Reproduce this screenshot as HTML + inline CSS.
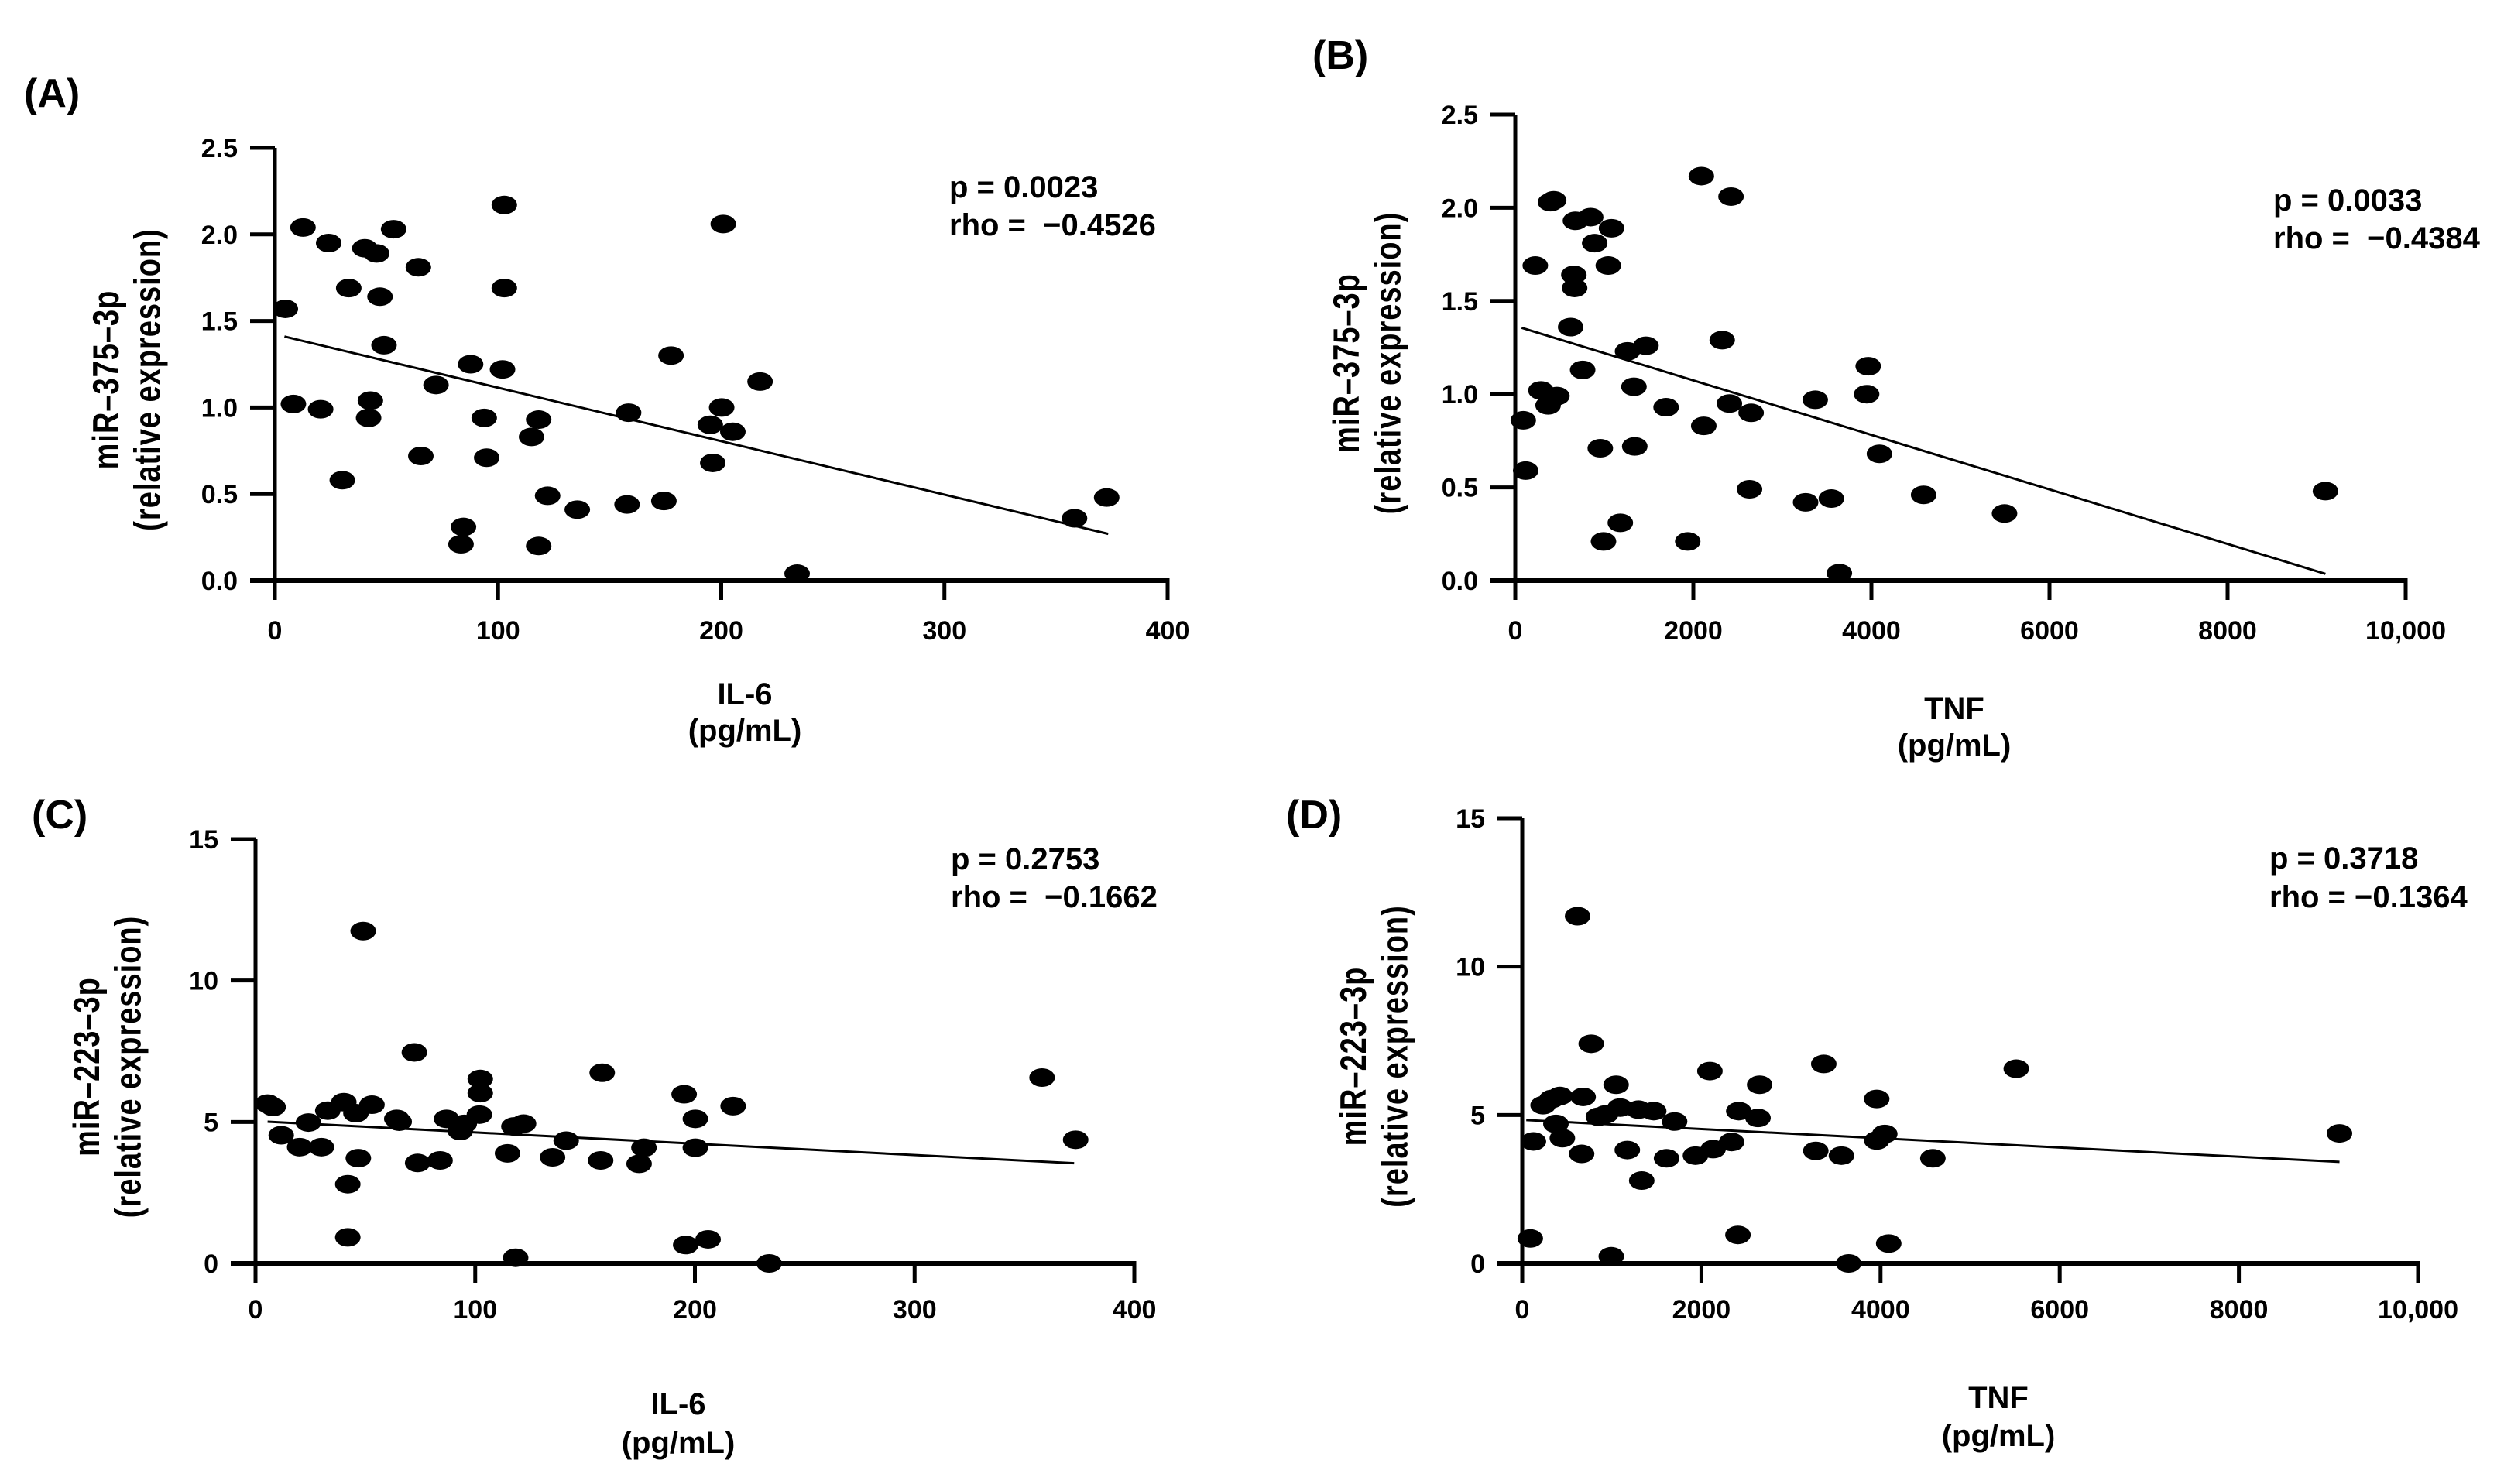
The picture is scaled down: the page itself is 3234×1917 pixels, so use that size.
<!DOCTYPE html>
<html><head><meta charset="utf-8"><title>miRNA vs cytokine correlations</title>
<style>
html,body{margin:0;padding:0;background:#fff;}
svg{display:block;font-family:"Liberation Sans",Arial,sans-serif;}
</style></head>
<body>
<svg id="fig" width="3234" height="1917" viewBox="0 0 3234 1917" xmlns="http://www.w3.org/2000/svg"></svg>
<script>
// ---- Panel A data: IL-6 vs miR-375-3p ----
const aX = [4.7,8.3,12.6,20.5,24.1,30.2,33.1,40.3,42,42.8,45.6,47.1,48.9,53.2,64.3,65.4,72.2,83.4,84.5,87.7,93.8,94.9,102,102.8,102.8,115,118.2,118.2,122.2,135.5,157.8,158.5,174.3,177.5,195.1,196.2,200.2,200.9,205.2,217.4,234,358.3,372.7];
const aY = [1.57,1.02,2.04,0.99,1.95,0.58,1.69,1.92,0.94,1.04,1.89,1.64,1.36,2.03,1.81,0.72,1.13,0.21,0.31,1.25,0.94,0.71,1.22,2.17,1.69,0.83,0.93,0.20,0.49,0.41,0.44,0.97,0.46,1.30,0.90,0.68,1.00,2.06,0.86,1.15,0.04,0.36,0.48];
const aFitX = [4.3,373.4];
const aFitY = [1.41,0.27];
const aXTicks = [0,100,200,300,400];
const aXTickLabels = ["0","100","200","300","400"];
const aYTicks = [0,0.5,1,1.5,2,2.5];
const aYTickLabels = ["0.0","0.5","1.0","1.5","2.0","2.5"];

// ---- Panel B data: TNF vs miR-375-3p ----
const bX = [90,117,225,288,369,396,432,468,622,658,667,676,757,847,892,955,991,1045,1081,1180,1261,1333,1342,1468,1694,1937,2090,2117,2324,2405,2423,2631,2649,3261,3369,3550,3640,3946,3964,4090,4586,5495,9099];
const bY = [0.86,0.59,1.69,1.02,0.94,2.03,2.04,0.99,1.36,1.64,1.57,1.93,1.13,1.95,1.81,0.71,0.21,1.69,1.89,0.31,1.23,1.04,0.72,1.26,0.93,0.21,2.17,0.83,1.29,0.95,2.06,0.49,0.90,0.42,0.97,0.44,0.04,1.00,1.15,0.68,0.46,0.36,0.48];
const bFitX = [72,9099];
const bFitY = [1.356,0.036];
const bXTicks = [0,2000,4000,6000,8000,10000];
const bXTickLabels = ["0","2000","4000","6000","8000","10,000"];
const bYTicks = [0,0.5,1,1.5,2,2.5];
const bYTickLabels = ["0.0","0.5","1.0","1.5","2.0","2.5"];

// ---- Panel C data: IL-6 vs miR-223-3p ----
const cX = [5.5,8,11.7,20.1,24.1,30,32.9,40.2,42,42,45.7,46.8,49,53,64.3,65.4,72.3,73.8,84,86.9,93.2,95,101.9,102.3,102.3,114.7,117.6,118.4,122,135.2,141.4,157.1,157.8,174.6,176.8,195.1,195.8,200.2,200.2,206,217.4,233.8,358,373.3];
const cY = [5.65,5.53,4.53,4.11,4.98,4.11,5.40,5.70,2.80,0.92,5.31,3.72,11.75,5.61,5.11,5.01,7.46,3.55,3.64,5.11,4.68,4.93,5.26,6.02,6.52,3.89,4.84,0.20,4.94,3.75,4.34,3.64,6.74,3.52,4.09,5.98,0.65,5.11,4.09,0.85,5.56,0.0,6.57,4.37];
const cFitX = [5.5,372.6];
const cFitY = [5.01,3.54];
const cXTicks = [0,100,200,300,400];
const cXTickLabels = ["0","100","200","300","400"];
const cYTicks = [0,5,10,15];
const cYTickLabels = ["0","5","10","15"];

// ---- Panel D data: TNF vs miR-223-3p ----
const dX = [90,125,233,331,376,421,448,618,663,680,770,851,931,994,1048,1092,1173,1298,1334,1468,1611,1701,1934,2095,2131,2337,2408,2417,2632,2650,3277,3366,3563,3644,3957,3957,4047,4091,4584,5515,9123];
const dY = [0.84,4.11,5.33,5.54,4.70,5.64,4.22,11.70,3.69,5.61,7.40,4.94,5.02,0.24,6.02,5.25,3.82,5.18,2.79,5.13,3.54,4.78,3.63,6.48,3.85,4.09,0.96,5.13,4.90,6.02,3.79,6.72,3.63,0.0,4.14,5.54,4.36,0.67,3.54,6.56,4.38];
const dFitX = [45,9123];
const dFitY = [4.83,3.42];
const dXTicks = [0,2000,4000,6000,8000,10000];
const dXTickLabels = ["0","2000","4000","6000","8000","10,000"];
const dYTicks = [0,5,10,15];
const dYTickLabels = ["0","5","10","15"];

const NS = "http://www.w3.org/2000/svg";
const svg = document.getElementById('fig');
function mk(tag, attrs, parent){
  const e = document.createElementNS(NS, tag);
  for (const k in attrs) e.setAttribute(k, attrs[k]);
  (parent||svg).appendChild(e);
  return e;
}

const panels = [
  {id:'a', letter:'(A)', lx:31, ly:138, x0:355, x1:1508, yT:191, yB:750, xMax:400, yMax:2.5,
   xs:aX, ys:aY, fx:aFitX, fy:aFitY, xt:aXTicks, xtl:aXTickLabels, yt:aYTicks, ytl:aYTickLabels,
   ytitle:'miR\u2013375\u20133p', xtitle:'IL-6', xtx:962, xt1:910, xt2:957, xlo:76,
   sx:1226, s1:255, s2:304, p:'p = 0.0023', rho:'rho =  \u22120.4526'},
  {id:'b', letter:'(B)', lx:1695, ly:89, x0:1957, x1:3107, yT:148, yB:750, xMax:10000, yMax:2.5,
   xs:bX, ys:bY, fx:bFitX, fy:bFitY, xt:bXTicks, xtl:bXTickLabels, yt:bYTicks, ytl:bYTickLabels,
   ytitle:'miR\u2013375\u20133p', xtitle:'TNF', xtx:2524, xt1:929, xt2:976, xlo:76,
   sx:2936, s1:272, s2:321, p:'p = 0.0033', rho:'rho =  \u22120.4384'},
  {id:'c', letter:'(C)', lx:41, ly:1070, x0:330, x1:1465, yT:1084, yB:1632, xMax:400, yMax:15,
   xs:cX, ys:cY, fx:cFitX, fy:cFitY, xt:cXTicks, xtl:cXTickLabels, yt:cYTicks, ytl:cYTickLabels,
   ytitle:'miR\u2013223\u20133p', xtitle:'IL-6', xtx:876, xt1:1827, xt2:1877, xlo:71,
   sx:1228, s1:1123, s2:1172, p:'p = 0.2753', rho:'rho =  \u22120.1662'},
  {id:'d', letter:'(D)', lx:1661, ly:1070, x0:1966, x1:3123, yT:1057, yB:1632, xMax:10000, yMax:15,
   xs:dX, ys:dY, fx:dFitX, fy:dFitY, xt:dXTicks, xtl:dXTickLabels, yt:dYTicks, ytl:dYTickLabels,
   ytitle:'miR\u2013223\u20133p', xtitle:'TNF', xtx:2581, xt1:1819, xt2:1868, xlo:71,
   sx:2931, s1:1122, s2:1172, p:'p = 0.3718', rho:'rho = \u22120.1364'}
];

panels.forEach(P => {
  const g = mk('g', {});
  
  
  const sx = v => P.x0 + v / P.xMax * (P.x1 - P.x0);
  const sy = v => P.yB - v / P.yMax * (P.yB - P.yT);

  const lab = mk('text', {x:P.lx, y:P.ly, 'font-size':52, 'font-weight':'bold', fill:'#000'}, g);
  lab.textContent = P.letter;
  
  

  const pts = mk('g', {fill:'#000'}, g);
  
  
  for (let i = 0; i < P.xs.length; i++) {
    const e = mk('ellipse', {cx:sx(P.xs[i]), cy:sy(P.ys[i]), rx:16.5, ry:12}, pts);
    
    
  }
  const ln = mk('line', {x1:sx(P.fx[0]), y1:sy(P.fy[0]), x2:sx(P.fx[1]), y2:sy(P.fy[1]), stroke:'#000', 'stroke-width':3}, g);
  
  

  const ya = mk('line', {x1:P.x0, y1:P.yT, x2:P.x0, y2:P.yB + 25, stroke:'#000', 'stroke-width':5}, g);
  
  
  const xa = mk('line', {x1:P.x0 - 32, y1:P.yB, x2:P.x1 + 2.5, y2:P.yB, stroke:'#000', 'stroke-width':6}, g);
  
  

  P.yt.forEach((v, i) => {
    const y = sy(v);
    const t = mk('line', {x1:P.x0 - 32, y1:y, x2:P.x0, y2:y, stroke:'#000', 'stroke-width':5}, g);
    
    
    const tl = mk('text', {x:P.x0 - 48, y:y + 12, 'font-size':34, 'font-weight':'bold', 'text-anchor':'end'}, g);
    tl.textContent = P.ytl[i];
    
    
  });
  P.xt.forEach((v, i) => {
    const x = sx(v);
    const t = mk('line', {x1:x, y1:P.yB, x2:x, y2:P.yB + 25, stroke:'#000', 'stroke-width':5}, g);
    
    
    const tl = mk('text', {x:x, y:P.yB + P.xlo, 'font-size':34, 'font-weight':'bold', 'text-anchor':'middle'}, g);
    tl.textContent = P.xtl[i];
    
    
  });

  const cy = (P.yT + P.yB) / 2 + 20;
  const yt = mk('g', {transform:'translate(' + (P.x0 - 202) + ',' + cy + ') rotate(-90) scale(1,1.25)'}, g);
  
  
  const t1 = mk('text', {x:0, y:0, 'font-size':38, 'font-weight':'bold', 'text-anchor':'middle', 'letter-spacing':'1'}, yt);
  t1.textContent = P.ytitle;
  const t2 = mk('text', {x:0, y:43, 'font-size':38, 'font-weight':'bold', 'text-anchor':'middle', 'letter-spacing':'1'}, yt);
  t2.textContent = '(relative expression)';

  const xt1 = mk('text', {x:P.xtx, y:P.xt1, 'font-size':40, 'font-weight':'bold', 'text-anchor':'middle'}, g);
  xt1.textContent = P.xtitle;
  
  
  const xt2 = mk('text', {x:P.xtx, y:P.xt2, 'font-size':40, 'font-weight':'bold', 'text-anchor':'middle'}, g);
  xt2.textContent = '(pg/mL)';
  
  

  const s1 = mk('text', {x:P.sx, y:P.s1, 'font-size':40, 'font-weight':'bold'}, g);
  s1.setAttribute('style', 'white-space:pre');
  s1.textContent = P.p;
  
  
  const s2 = mk('text', {x:P.sx, y:P.s2, 'font-size':40, 'font-weight':'bold'}, g);
  s2.setAttribute('style', 'white-space:pre');
  s2.textContent = P.rho;
  
  
});
</script>
</body></html>
